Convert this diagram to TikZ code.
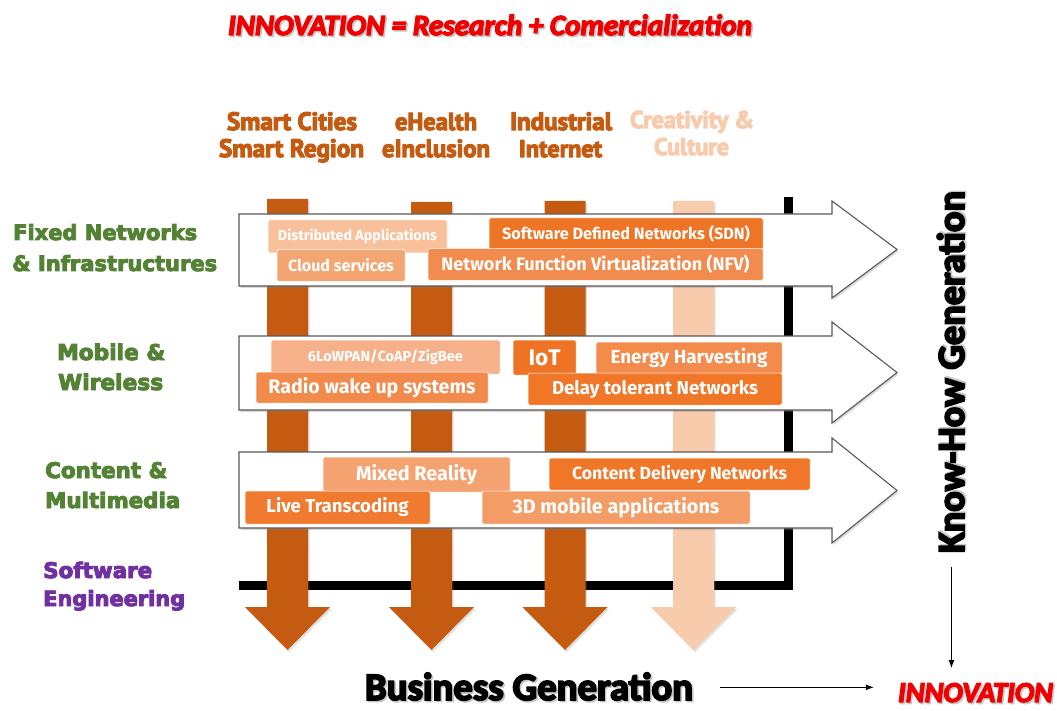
\documentclass[tikz,border=0pt]{standalone}
\usepackage{fontspec}
\usepackage{graphicx}
\usetikzlibrary{arrows.meta,shadows}
\newfontfamily\calib{Carlito Bold}
\newfontfamily\calibit{Carlito Bold Italic}
\newfontfamily\hdrf{PT Sans Bold}
\newfontfamily\lblf{DejaVu Sans Bold}
\newfontfamily\boxf{Fira Sans}
\definecolor{darkor}{HTML}{C55A11}
\definecolor{lightor}{HTML}{F8CBAD}
\definecolor{lblgreen}{HTML}{548235}
\definecolor{lblpurple}{HTML}{7030A0}
\definecolor{innred}{HTML}{F00000}
\definecolor{cDist}{HTML}{F8C19C}
\definecolor{cCloud}{HTML}{F4A672}
\definecolor{cSDN}{HTML}{EF7526}
\definecolor{cNFV}{HTML}{F28C4E}
\definecolor{cLow}{HTML}{F7B18A}
\definecolor{cIoT}{HTML}{EF7324}
\definecolor{cEnergy}{HTML}{F38B4C}
\definecolor{cRadio}{HTML}{F28A4B}
\definecolor{cDelay}{HTML}{F07628}
\definecolor{cMixed}{HTML}{F5A271}
\definecolor{cCDN}{HTML}{F07628}
\definecolor{cLive}{HTML}{F07A30}
\definecolor{c3D}{HTML}{F39C66}
\newcommand\fitw[2]{\resizebox{#1pt}{!}{#2}}
% heavier text (fill + stroke): width, text
\newcommand\heavy[2]{\fitw{#1}{\special{pdf:literal 2 Tr 0.45 w}#2\special{pdf:literal 0 Tr}}}
\newcommand\shad[1]{\rlap{\hspace*{1.6pt}\raisebox{-1.6pt}{\textcolor{black!22}{#1}}}#1}
\tikzset{
  obox/.style={rectangle, rounded corners=1.5pt, draw=white, line width=0.5pt,
    inner sep=0pt, text=white, font=\boxf\bfseries},
  warrow/.style={fill=white, draw=black!65, line width=1.1pt, line join=miter,
    drop shadow={opacity=0.3, shadow xshift=1.5pt, shadow yshift=-2pt}},
  darrow/.style={drop shadow={opacity=0.25, shadow xshift=1.5pt, shadow yshift=-2pt}},
  hdr/.style={inner sep=0pt, anchor=base, font=\hdrf},
  lbl/.style={inner sep=0pt, anchor=base west, font=\lblf, text=lblgreen},
  big/.style={inner sep=0pt, anchor=base, font=\calib},
  thinarr/.style={draw=black, line width=0.8pt, -{Latex[length=8pt,width=6pt]}},
}
\begin{document}
\begin{tikzpicture}[x=1pt,y=-1pt]
\useasboundingbox (0,0) rectangle (1057,711);

% black L frame
\draw[line width=9pt, line join=miter, black] (788.5,197) -- (788.5,585) -- (239,585);

% vertical column arrows
\foreach \cx/\tp/\col in {287.5/199/darkor, 431.5/202/darkor, 565/201/darkor, 693.5/201/lightor}{
  \path[fill=\col, darrow] (\cx-20.5,\tp) -- (\cx+20.5,\tp) -- (\cx+20.5,607) -- (\cx+42.5,607)
     -- (\cx,650) -- (\cx-42.5,607) -- (\cx-20.5,607) -- cycle;
}

% horizontal white arrows
\foreach \t/\b/\ht/\hb in {214/286/201/298, 336/410/322/423, 452/528/438/543}{
  \draw[warrow] (239,\t) -- (832,\t) -- (832,\ht) -- (897,{(\ht+\hb)/2}) -- (832,\hb)
     -- (832,\b) -- (239,\b) -- cycle;
}

% row 1 boxes
\node[obox, fill=cDist, minimum width=179pt, minimum height=33pt] (dist) at (357.5,236.5) {\fitw{159}{Distributed Applications}};
\node[obox, fill=cCloud, minimum width=128pt, minimum height=32pt] (cloud) at (341,265.5) {\fitw{106}{Cloud services}};
\node[obox, fill=cSDN, minimum width=274pt, minimum height=32pt] (sdn) at (626,234) {\fitw{248}{Software Defined Networks (SDN)}};
\node[obox, fill=cNFV, minimum width=335pt, minimum height=32pt] (nfv) at (595.5,264.5) {\fitw{308}{Network Function Virtualization (NFV)}};

% row 2 boxes
\node[obox, fill=cLow, minimum width=229pt, minimum height=34pt] (low) at (385.5,357) {\fitw{155}{6LoWPAN/CoAP/ZigBee}};
\node[obox, fill=cIoT, minimum width=63pt, minimum height=35pt] (iot) at (544.5,357.5) {\fitw{32}{IoT}};
\node[obox, fill=cEnergy, minimum width=186pt, minimum height=32pt] (energy) at (689,358) {\fitw{157}{Energy Harvesting}};
\node[obox, fill=cRadio, minimum width=232pt, minimum height=31pt] (radio) at (372,387.5) {\fitw{207}{Radio wake up systems}};
\node[obox, fill=cDelay, minimum width=254pt, minimum height=32pt] (delay) at (655,389) {\fitw{206}{Delay tolerant Networks}};

% row 3 boxes
\node[obox, fill=cMixed, minimum width=187pt, minimum height=35pt] (mixed) at (416.5,474.5) {\fitw{121}{Mixed Reality}};
\node[obox, fill=cCDN, minimum width=261pt, minimum height=32pt] (cdn) at (679.5,474) {\fitw{215}{Content Delivery Networks}};
\node[obox, fill=cLive, minimum width=185pt, minimum height=33pt] (live) at (337.5,507.5) {\fitw{142}{Live Transcoding}};
\node[obox, fill=c3D, minimum width=268pt, minimum height=33pt] (mob3d) at (616,507.5) {\fitw{207}{3D mobile applications}};

% column headers
\node[hdr, text=darkor] (h1a) at (292,130) {\heavy{130}{Smart Cities}};
\node[hdr, text=darkor] (h1b) at (291.5,157) {\heavy{145}{Smart Region}};
\node[hdr, text=darkor] (h2a) at (436,130) {\heavy{82}{eHealth}};
\node[hdr, text=darkor] (h2b) at (436,157) {\heavy{108}{eInclusion}};
\node[hdr, text=darkor] (h3a) at (561,130) {\heavy{102}{Industrial}};
\node[hdr, text=darkor] (h3b) at (560.5,157) {\heavy{83}{Internet}};
\node[hdr, text=lightor] (h4a) at (692,128) {\heavy{124}{Creativity \&}};
\node[hdr, text=lightor] (h4b) at (691.5,155) {\heavy{75}{Culture}};

% row labels
\node[lbl] (l1a) at (13,240) {\heavy{184}{Fixed Networks}};
\node[lbl] (l1b) at (12,271) {\heavy{205}{\& Infrastructures}};
\node[lbl] (l2a) at (57,360) {\heavy{108}{Mobile \&}};
\node[lbl] (l2b) at (58,390) {\heavy{105}{Wireless}};
\node[lbl] (l3a) at (45,478) {\heavy{122}{Content \&}};
\node[lbl] (l3b) at (45,508) {\heavy{135}{Multimedia}};
\node[lbl, text=lblpurple] (l4a) at (43,578) {\heavy{109}{Software}};
\node[lbl, text=lblpurple] (l4b) at (43,606) {\heavy{142}{Engineering}};

% title
\node[big, text=innred] (title) at (490,35) {\shad{\heavy{524}{\calibit INNOVATION = Research + Comercialization}}};

% right side and bottom
\node[big, text=black, rotate=90] (kh) at (964,372) {\shad{\heavy{362}{Know-How Generation}}};
\node[big, text=black] (bg) at (529,700) {\shad{\heavy{328}{Business Generation}}};
\node[big, text=innred] (innov) at (975.5,702) {\shad{\heavy{155}{\calibit INNOVATION}}};
\coordinate (khend) at (950,668);

\draw[thinarr, shorten <=14pt] (kh.west) -- (kh.west |- khend);
\draw[thinarr, shorten <=27pt, shorten >=24pt] (bg.east) -- (bg.east -| innov.west);
\end{tikzpicture}
\end{document}
